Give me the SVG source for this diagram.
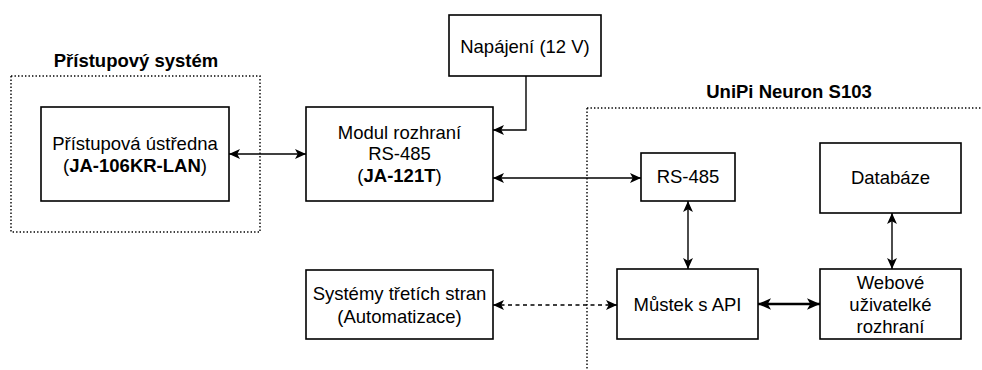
<svg xmlns="http://www.w3.org/2000/svg" width="982" height="370" viewBox="0 0 982 370">
<style>
  .box { fill: #ffffff; stroke: #000000; stroke-width: 1.6; }
  .group { fill: none; stroke: #000000; stroke-width: 1.4; stroke-dasharray: 1.4 2.1; }
  .t { font-family: "Liberation Sans", Arial, sans-serif; font-size: 18.5px; fill: #000000; text-anchor: middle; }
  .b { font-weight: bold; }
  .c { fill: none; stroke: #000000; stroke-width: 1.4; }
  .thick { stroke-width: 2.4; }
  .dash { stroke-dasharray: 4 3.5; }
</style>
<defs>
  <marker id="ah" viewBox="0 0 10 9" refX="10" refY="4.5" markerWidth="11" markerHeight="10" markerUnits="userSpaceOnUse" orient="auto-start-reverse">
    <path d="M0,0 L10,4.5 L0,9 L2.5,4.5 Z" fill="#000000"/>
  </marker>
  <marker id="ahBig" viewBox="0 0 10 9" refX="10" refY="4.5" markerWidth="13" markerHeight="12" markerUnits="userSpaceOnUse" orient="auto-start-reverse">
    <path d="M0,0 L10,4.5 L0,9 L2.5,4.5 Z" fill="#000000"/>
  </marker>
</defs>
<rect width="982" height="370" fill="#ffffff"/>

<g id="pristupovy-system">
  <rect class="group" x="11" y="76" width="249" height="156"/>
  <text class="t b" x="136" y="67">Přístupový systém</text>
</g>

<g id="unipi-neuron">
  <rect class="group" x="587" y="108" width="420" height="300"/>
  <text class="t b" x="789" y="98">UniPi Neuron S103</text>
</g>

<g id="ustredna">
  <rect class="box" x="41" y="107" width="188" height="94"/>
  <text class="t" x="135" y="150">Přístupová ústředna</text>
  <text class="t" x="135" y="172">(<tspan class="b">JA-106KR-LAN</tspan>)</text>
</g>

<g id="modul">
  <rect class="box" x="306" y="107" width="187" height="94"/>
  <text class="t" x="399.5" y="139">Modul rozhraní</text>
  <text class="t" x="399.5" y="160">RS-485</text>
  <text class="t" x="399.5" y="182">(<tspan class="b">JA-121T</tspan>)</text>
</g>

<g id="napajeni">
  <rect class="box" x="449" y="15" width="152" height="61"/>
  <text class="t" x="525" y="53">Napájení (12 V)</text>
</g>

<g id="rs485">
  <rect class="box" x="641" y="153" width="94" height="48"/>
  <text class="t" x="688" y="183">RS-485</text>
</g>

<g id="databaze">
  <rect class="box" x="820" y="143" width="141" height="70"/>
  <text class="t" x="890.5" y="184">Databáze</text>
</g>

<g id="systemy">
  <rect class="box" x="306" y="270" width="187" height="69"/>
  <text class="t" x="399.5" y="300">Systémy třetích stran</text>
  <text class="t" x="399.5" y="323">(Automatizace)</text>
</g>

<g id="mustek">
  <rect class="box" x="617" y="269" width="141" height="70"/>
  <text class="t" x="687.5" y="311">Můstek s API</text>
</g>

<g id="webove">
  <rect class="box" x="820" y="269" width="141" height="70"/>
  <text class="t" x="890.5" y="289">Webové</text>
  <text class="t" x="890.5" y="311">uživatelké</text>
  <text class="t" x="890.5" y="333">rozhraní</text>
</g>

<g id="connectors">
  <line class="c" x1="229" y1="154" x2="306" y2="154" marker-start="url(#ah)" marker-end="url(#ah)"/>
  <path class="c" d="M526,76 V130 H493" marker-end="url(#ah)"/>
  <line class="c" x1="493" y1="178" x2="641" y2="178" marker-start="url(#ah)" marker-end="url(#ah)"/>
  <line class="c" x1="688" y1="201" x2="688" y2="269" marker-start="url(#ah)" marker-end="url(#ah)"/>
  <line class="c" x1="892" y1="213" x2="892" y2="269" marker-start="url(#ah)" marker-end="url(#ah)"/>
  <line class="c thick" x1="758" y1="304" x2="820" y2="304" marker-start="url(#ahBig)" marker-end="url(#ahBig)"/>
  <line class="c dash" x1="493" y1="305" x2="617" y2="305" marker-start="url(#ah)" marker-end="url(#ah)"/>
</g>
</svg>
